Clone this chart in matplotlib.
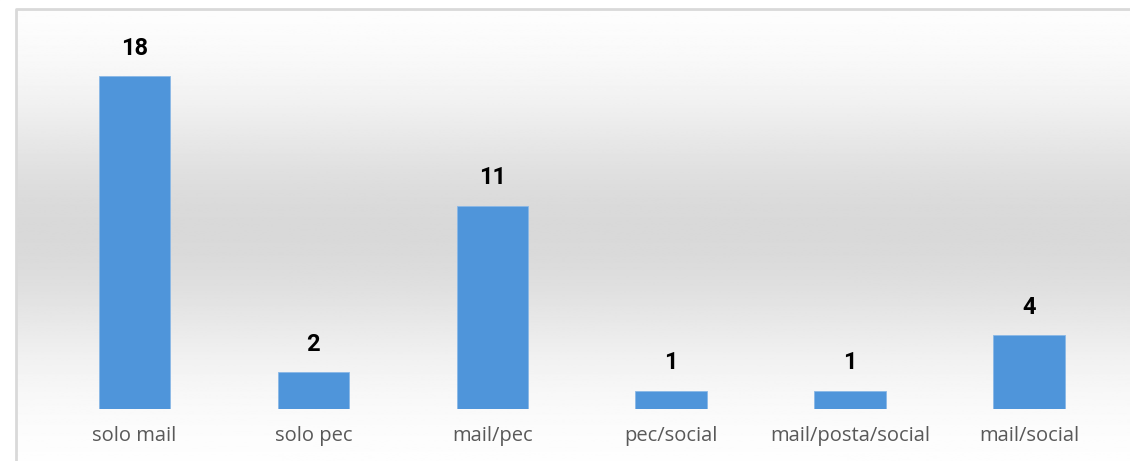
import matplotlib
matplotlib.use("Agg")
import matplotlib.pyplot as plt
import numpy as np
from matplotlib.patches import Rectangle

CATEGORIES = ["solo mail", "solo pec", "mail/pec", "pec/social", "mail/posta/social", "mail/social"]
VALUES = [18, 2, 11, 1, 1, 4]

BAR_COLOR = "#4f95da"
LABEL_COLOR = "#595959"
BORDER = "#d9d9d9"

plt.rcParams["font.family"] = ["Open Sans", "DejaVu Sans"]

fig = plt.figure(figsize=(11.3, 4.61), dpi=100)

# background with vertical gradient (white -> grey -> white)
bg = fig.add_axes([0, 0, 1, 1], zorder=0)
t = np.linspace(0, 1, 400)
shade = 1 - 0.15 * np.exp(-((t - 0.5) / 0.28) ** 2)
grad = np.tile(shade[:, None], (1, 2))
bg.imshow(grad, cmap="gray", vmin=0, vmax=1, aspect="auto",
          extent=[0, 1, 0, 1], origin="lower")
bg.set_xlim(0, 1)
bg.set_ylim(0, 1)
bg.axis("off")
# white margin outside the chart frame
bg.add_patch(Rectangle((0, 0), 15 / 1130, 1, color="white", zorder=2))
bg.add_patch(Rectangle((0, 1 - 9 / 461), 1, 9 / 461, color="white", zorder=2))
bg.plot([15.5 / 1130, 15.5 / 1130, 1], [0, 1 - 9.5 / 461, 1 - 9.5 / 461],
        color=BORDER, lw=2, zorder=3, solid_capstyle="butt")

ax = fig.add_axes([45 / 1130, 52 / 461, 1073.5 / 1130, 370 / 461], zorder=1)
ax.patch.set_alpha(0)
x = np.arange(len(CATEGORIES))
bars = ax.bar(x, VALUES, width=0.4, color=BAR_COLOR, edgecolor="#8ab8e6", linewidth=0.6)
ax.set_xlim(-0.5, len(CATEGORIES) - 0.5)
ax.set_ylim(0, 20)

for xi, v in zip(x, VALUES):
    ax.annotate(str(v), (xi, v), xytext=(0, 20), textcoords="offset points",
                ha="center", va="center", fontsize=17, fontweight="bold",
                color="black", family=["Roboto", "DejaVu Sans"])

ax.set_xticks(x)
ax.set_xticklabels(CATEGORIES, fontsize=14.5, color=LABEL_COLOR)
ax.tick_params(axis="x", length=0, pad=12)
ax.set_yticks([])
for s in ax.spines.values():
    s.set_visible(False)

fig.savefig("out.png", dpi=100)
